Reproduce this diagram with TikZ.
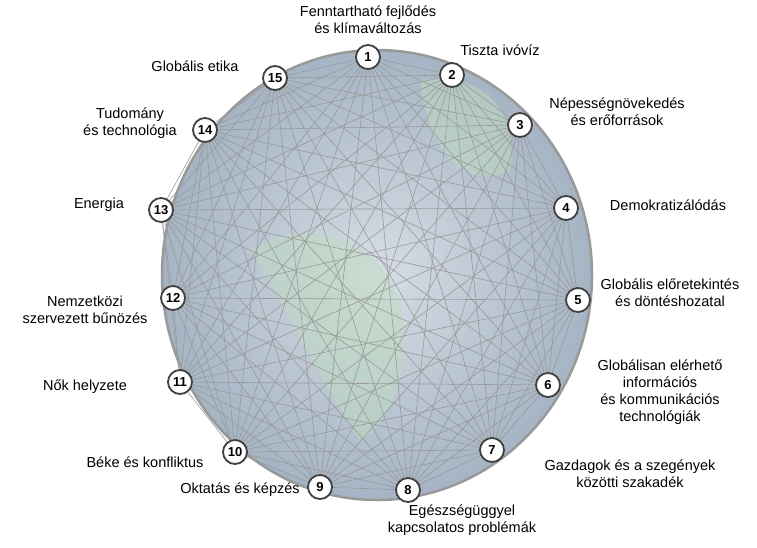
\documentclass[tikz,border=0pt]{standalone}
\usepackage{fontspec}
\setmainfont{Liberation Sans}
\begin{document}
\begin{tikzpicture}[x=1pt,y=-1pt,
  num/.style={circle,draw=black!75,line width=1.8pt,fill=white,inner sep=0pt,minimum size=24pt,font=\fontsize{13}{13}\selectfont\bfseries},
  lab/.style={align=center,font=\fontsize{14.5}{17}\selectfont},
  link/.style={draw=black!40,line width=0.6pt}]
\definecolor{globein}{RGB}{215,222,230}
\definecolor{globeout}{RGB}{165,180,196}
\useasboundingbox (0,0) rectangle (757,547);
\fill[inner color=globein,outer color=globeout] (377,275) ellipse [x radius=215, y radius=225];
\fill[green!30!gray!40,opacity=0.5] (250,250) .. controls (300,220) and (360,230) .. (390,280) .. controls (420,330) and (400,420) .. (360,440) .. controls (330,400) and (300,330) .. (250,250);
\fill[green!30!gray!40,opacity=0.5] (420,80) .. controls (480,70) and (520,110) .. (510,170) .. controls (470,190) and (430,160) .. (420,80);
\draw[black!40,line width=2.5pt] (377,275) ellipse [x radius=215, y radius=225];
\foreach \i/\x/\y in {1/368/57,2/452/75,3/520/125,4/566/208,5/578/300,6/548/385,7/492/450,8/408/490,9/320/487,10/235/452,11/180/382,12/173/298,13/161/210,14/205/130,15/275/78}
  \coordinate (p\i) at (\x,\y);
\foreach \i in {1,...,15}{\foreach \j in {1,...,15}{\ifnum\i<\j \draw[link] (p\i)--(p\j);\fi}}
\foreach \i in {1,...,15} \node[num] (n\i) at (p\i) {\i};
\node[lab] (l1) at (368,20) {Fenntartható fejlődés\\és klímaváltozás};
\node[lab] (l2) at (500,50) {Tiszta ivóvíz};
\node[lab] (l3) at (617,112) {Népességnövekedés\\és erőforrások};
\node[lab] (l4) at (668,205) {Demokratizálódás};
\node[lab] (l5) at (670,293) {Globális előretekintés\\és döntéshozatal};
\node[lab] (l6) at (660,392) {Globálisan elérhető\\információs\\és kommunikációs\\technológiák};
\node[lab] (l7) at (630,474) {Gazdagok és a szegények\\közötti szakadék};
\node[lab] (l8) at (462,520) {Egészségüggyel\\kapcsolatos problémák};
\node[lab] (l9) at (240,490) {Oktatás és képzés};
\node[lab] (l10) at (145,462) {Béke és konfliktus};
\node[lab] (l11) at (85,387) {Nők helyzete};
\node[lab] (l12) at (85,310) {Nemzetközi\\szervezett bűnözés};
\node[lab] (l13) at (99,205) {Energia};
\node[lab] (l14) at (130,123) {Tudomány\\és technológia};
\node[lab] (l15) at (195,66) {Globális etika};
\end{tikzpicture}
\end{document}
